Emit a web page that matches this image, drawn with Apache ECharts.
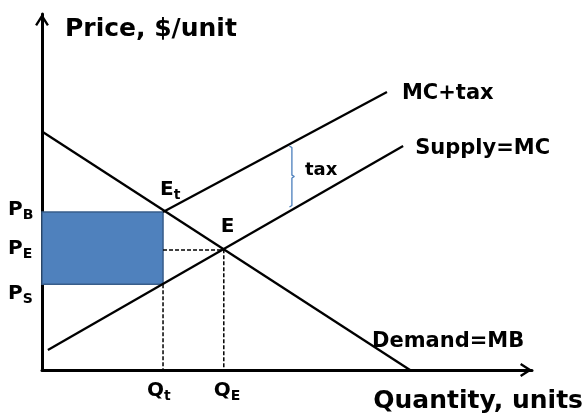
<!DOCTYPE html>
<html>
<head>
<meta charset="utf-8">
<title>Tax incidence</title>
<script src="https://cdn.jsdelivr.net/npm/echarts@6/dist/echarts.min.js"></script>
<style>
  html, body { margin: 0; padding: 0; background: #fff; }
  #chart { width: 585px; height: 414px; }
</style>
</head>
<body>
<div id="chart"></div>
<script>
// Quantities and prices (arbitrary units on a 0-100 scale)
const qTax = 24.7;      // quantity traded with the tax
const qEq = 37.1;       // free-market equilibrium quantity
const pBuyer = 44.4;    // price paid by buyers
const pEq = 33.7;       // equilibrium price
const pSeller = 24.1;   // price received by sellers

// Curves as end points [quantity, price]
const demand = [[0, 67], [75.1, 0]];
const supply = [[1.2, 5.6], [73.7, 62.9]];
const mcTax = [[qTax, pBuyer], [70.4, 78.1]];

// Vertical brace showing the size of the tax
const braceX = 51.0;
const braceTop = 62.9;
const braceBottom = 45.8;

// Label texts
const priceLabels = ['{m|P}{s|B}', '{m|P}{s|E}', '{m|P}{s|S}'];
const quantityLabels = ['{m|Q}{s|t}', '{m|Q}{s|E}'];
const curveLabels = ['MC+tax', 'Supply=MC', 'Demand=MB', 'tax'];
const pointLabels = ['{m|E}{s|t}', '{m|E}'];
const axisTitles = ['Quantity, units', 'Price, $/unit'];

const FONT = 'DejaVu Sans';
const subRich = {
  m: { fontFamily: FONT, fontWeight: 'bold', fontSize: 20, lineHeight: 24, color: '#000' },
  s: { fontFamily: FONT, fontWeight: 'bold', fontSize: 14, lineHeight: 14, color: '#000', verticalAlign: 'bottom' }
};

function lbl(value, text, dx, dy, size) {
  return {
    value: value,
    label: {
      show: true,
      formatter: text,
      position: [dx, dy],
      align: 'left',
      verticalAlign: 'middle',
      fontFamily: FONT,
      fontWeight: 'bold',
      fontSize: size || 21,
      color: '#000',
      opacity: 1,
      rich: subRich
    }
  };
}

const bh = 0.5; // hook length of the brace
const braceMid = (braceTop + braceBottom) / 2;
const brace = [
  [braceX - bh, braceTop], [braceX, braceTop - 0.4],
  [braceX, braceMid + 0.4], [braceX + bh, braceMid], [braceX, braceMid - 0.4],
  [braceX, braceBottom + 0.4], [braceX - bh, braceBottom]
];

const arrowPath = 'path://M7,-12L7,-12M7,0L14,11L12,12.3L7,4.4L2,12.3L0,11Z';

const labelData = [
  lbl([0, pBuyer], priceLabels[0], -34, -2),
  lbl([0, pEq], priceLabels[1], -34, -1),
  lbl([0, pSeller], priceLabels[2], -34, 10),
  lbl([qTax, 0], quantityLabels[0], -16, 21),
  lbl([qEq, 0], quantityLabels[1], -10, 21),
  lbl([qTax, pBuyer], pointLabels[0], -3, -22),
  lbl([qEq, pEq], pointLabels[1], -3, -23),
  lbl(mcTax[1], curveLabels[0], 15, 1.5),
  lbl(supply[1], curveLabels[1], 12, 2),
  lbl(demand[1], curveLabels[2], -38, -28),
  lbl([braceX, braceMid], curveLabels[3], 13, -6, 18)
];

const chart = echarts.init(document.getElementById('chart'), null, { renderer: 'canvas' });

const solid = { color: '#000', width: 2.3 };
const dashed = { color: '#000', width: 1.5, type: [4, 2] };
const hiddenAxisParts = { axisTick: { show: false }, axisLabel: { show: false }, splitLine: { show: false } };
const axisLine = {
  show: true, onZero: false, symbol: ['none', arrowPath], symbolSize: [14, 24],
  lineStyle: { color: '#000', width: 3 }
};
const titleFont = 'bold 25px "DejaVu Sans"';

chart.setOption({
  animation: false,
  grid: { left: 42, right: 53, top: 14, bottom: 44 },
  xAxis: Object.assign({ type: 'value', min: 0, max: 100, axisLine: axisLine }, hiddenAxisParts),
  yAxis: Object.assign({ type: 'value', min: 0, max: 100, axisLine: axisLine }, hiddenAxisParts),
  graphic: [
    { type: 'text', x: 65, y: 29, silent: true,
      style: { text: axisTitles[1], font: titleFont, fill: '#000', textAlign: 'left', textVerticalAlign: 'middle' } },
    { type: 'text', x: 583, y: 401, silent: true,
      style: { text: axisTitles[0], font: titleFont, fill: '#000', textAlign: 'right', textVerticalAlign: 'middle' } }
  ],
  series: [
    {
      // tax revenue rectangle
      type: 'line', data: [], silent: true,
      markArea: {
        silent: true,
        itemStyle: { color: '#4f81bd', borderColor: '#385d8a', borderWidth: 1.5, opacity: 1 },
        data: [[{ coord: [0, pSeller] }, { coord: [qTax, pBuyer] }]]
      }
    },
    { type: 'line', data: [[qTax, pSeller], [qTax, 0]], showSymbol: false, lineStyle: dashed, silent: true, z: 3 },
    { type: 'line', data: [[qTax, pEq], [qEq, pEq], [qEq, 0]], showSymbol: false, lineStyle: dashed, silent: true },
    { type: 'line', data: demand, showSymbol: false, lineStyle: solid, silent: true },
    { type: 'line', data: supply, showSymbol: false, lineStyle: solid, silent: true },
    { type: 'line', data: mcTax, showSymbol: false, lineStyle: solid, silent: true },
    { type: 'line', data: brace, showSymbol: false, lineStyle: { color: '#4a7ebb', width: 1.3 }, silent: true },
    {
      type: 'scatter', data: labelData, symbolSize: 0, clip: false, silent: true, z: 5,
      itemStyle: { opacity: 1 }
    }
  ]
});
</script>
</body>
</html>
